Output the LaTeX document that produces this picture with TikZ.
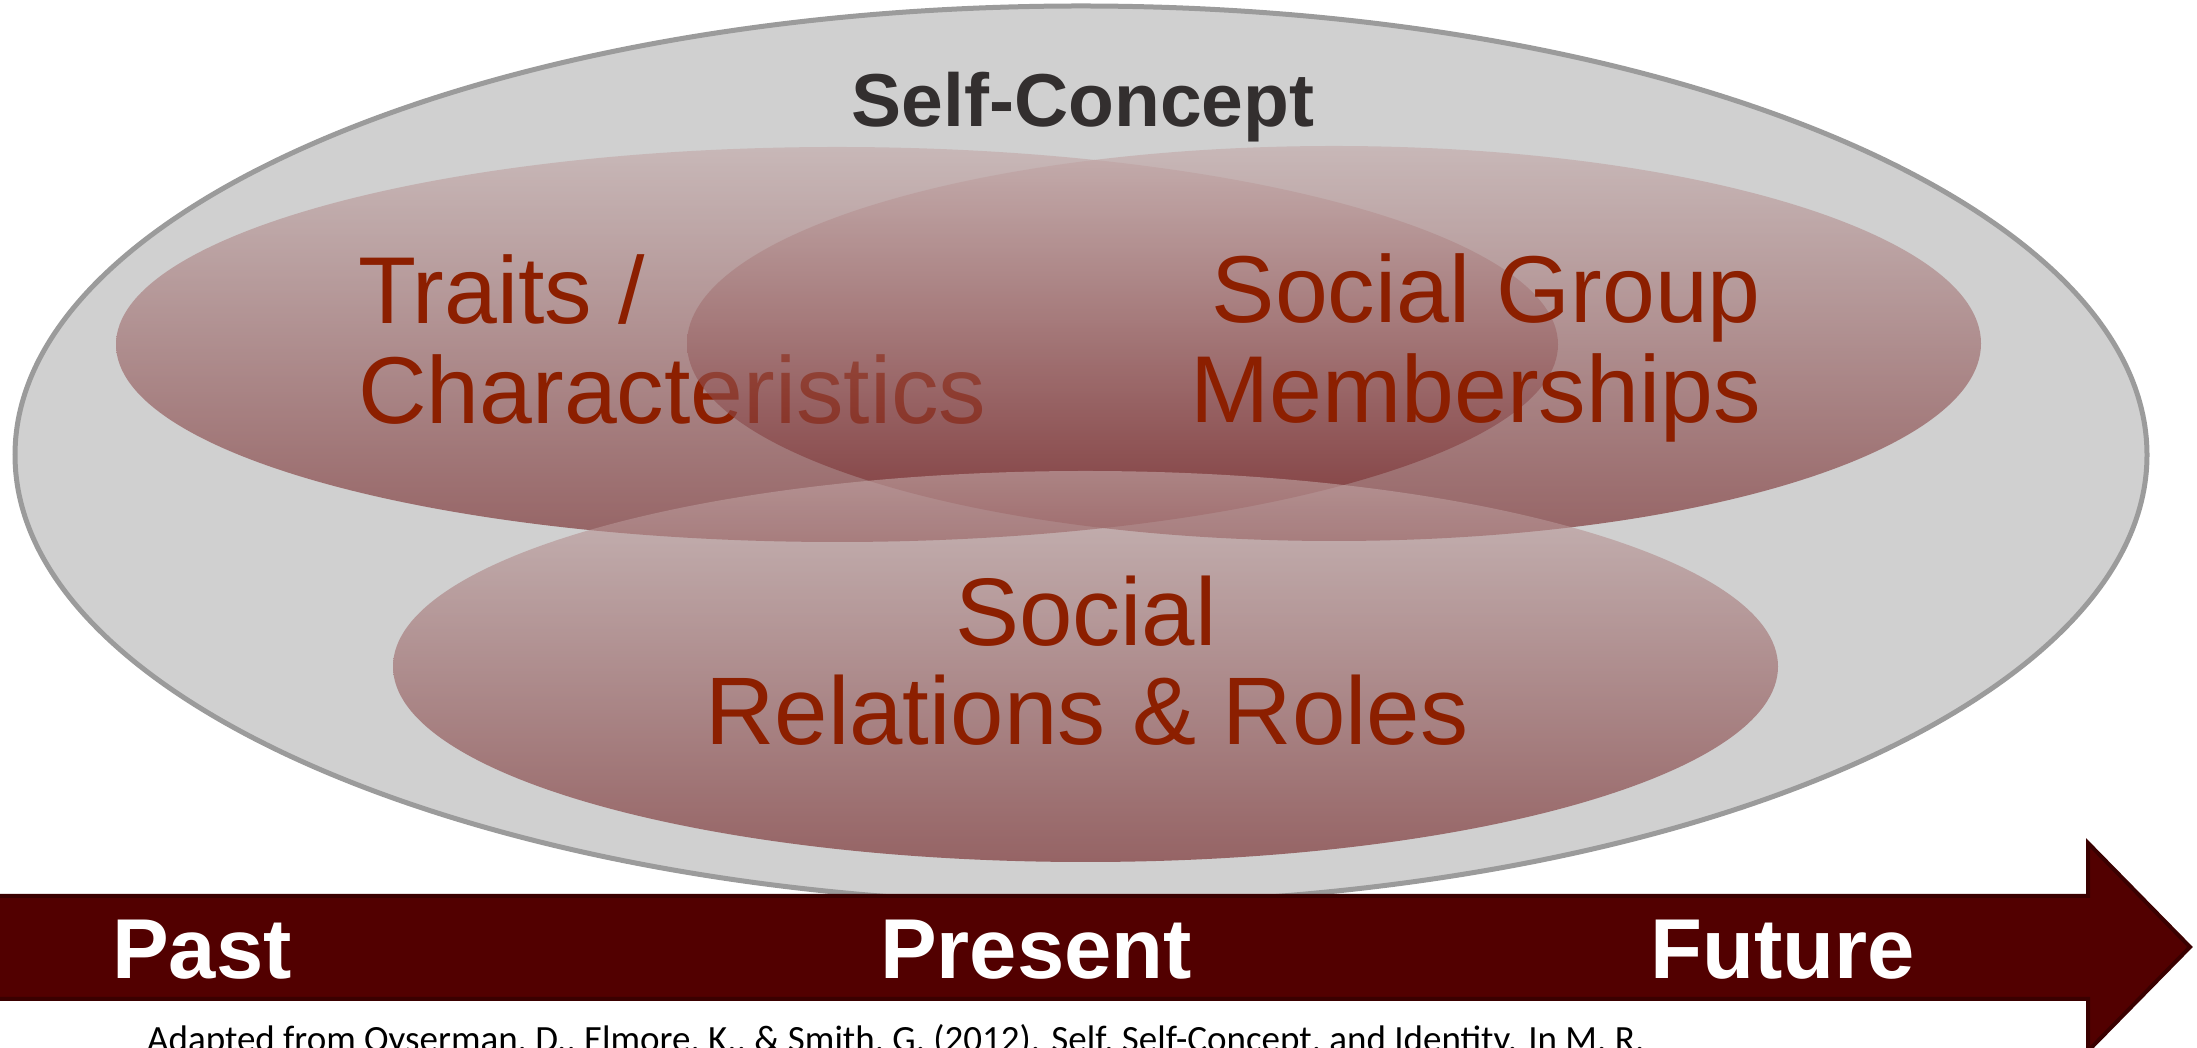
\documentclass[tikz,border=0pt]{standalone}
\usepackage{fontspec}
\setmainfont{Liberation Sans}
\newfontfamily\calfont{Carlito}
\definecolor{ringfill}{RGB}{208,208,208}
\definecolor{ringline}{RGB}{155,155,155}
\definecolor{elltop}{RGB}{195,168,168}
\definecolor{ellbot}{RGB}{111,28,30}
\definecolor{lblred}{RGB}{140,31,0}
\definecolor{titlegray}{RGB}{51,47,47}
\definecolor{arrowfill}{RGB}{82,0,0}
\definecolor{arrowline}{RGB}{58,0,0}
\tikzset{
  ring/.style={fill=ringfill, draw=ringline, line width=5},
  setell/.style={top color=elltop, bottom color=ellbot, fill opacity=0.6},
  lbl/.style={inner sep=0, text=lblred, font=\fontsize{95}{95}\selectfont},
  timelbl/.style={inner sep=0, text=white, anchor=base west, font=\bfseries\fontsize{85}{85}\selectfont},
  timearrow/.style={fill=arrowfill, draw=arrowline, line width=4, line join=miter}
}
\begin{document}
\begin{tikzpicture}[x=1pt,y=1pt]
\useasboundingbox (0,0) rectangle (2197,1048);
% outer self-concept ellipse
\path[ring] (1081,593) ellipse [x radius=1066, y radius=449];
\node[inner sep=0, anchor=base, text=titlegray, font=\bfseries\fontsize{75}{75}\selectfont] (title) at (1083,921) {Self-Concept};
% traits
\shade[setell] (837,703.5) ellipse [x radius=721, y radius=197.5];
\node[lbl, anchor=base west] (traitsA) at (358,724) {Traits /};
\node[lbl, anchor=base west] (traitsB) at (358,624) {Characteristics};
% social group
\shade[setell] (1334,704.5) ellipse [x radius=647, y radius=197.5];
\node[lbl, anchor=base east] (groupA) at (1761,725) {Social Group};
\node[lbl, anchor=base east] (groupB) at (1761,625) {Memberships};
% social relations
\shade[setell] (1085.5,381.5) ellipse [x radius=692.5, y radius=195.5];
\node[lbl, anchor=base, font=\fontsize{96}{96}\selectfont] (relA) at (1086,402) {Social};
\node[lbl, anchor=base, font=\fontsize{96}{96}\selectfont] (relB) at (1087,303) {Relations \& Roles};
% time arrow
\draw[timearrow] (-6,152) -- (2088,152) -- (2088,205) -- (2190,101) -- (2088,-3) -- (2088,49) -- (-6,49) -- cycle;
\node[timelbl] (past) at (112,69) {Past};
\node[timelbl] (present) at (880,69) {Present};
\node[timelbl] (future) at (1650,69) {Future};
% citation
\node[inner sep=0, anchor=base west, font=\calfont\fontsize{37}{37}\selectfont] (source) at (147,-4) {Adapted from Oyserman, D., Elmore, K., \& Smith, G. (2012). Self, Self-Concept, and Identity. In M. R.};
\end{tikzpicture}
\end{document}
